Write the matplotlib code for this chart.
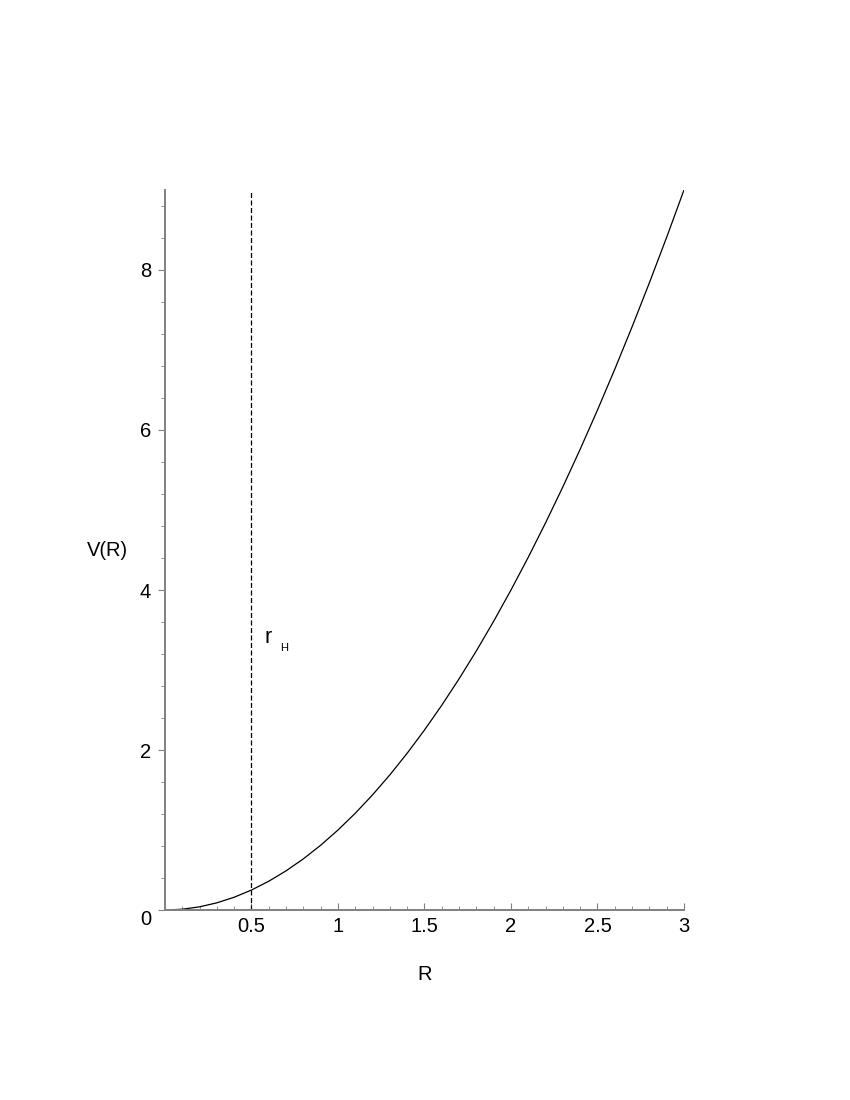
import numpy as np
import matplotlib
matplotlib.use("Agg")
import matplotlib.pyplot as plt
from matplotlib.ticker import MultipleLocator

# values
R_vals = [0.0, 0.1, 0.2, 0.3, 0.4, 0.5, 0.6, 0.7, 0.8, 0.9, 1.0,
          1.1, 1.2, 1.3, 1.4, 1.5, 1.6, 1.7, 1.8, 1.9, 2.0,
          2.1, 2.2, 2.3, 2.4, 2.5, 2.6, 2.7, 2.8, 2.9, 3.0]
V_vals = [0.0, 0.01, 0.04, 0.09, 0.16, 0.25, 0.36, 0.49, 0.64, 0.81, 1.0,
          1.21, 1.44, 1.69, 1.96, 2.25, 2.56, 2.89, 3.24, 3.61, 4.0,
          4.41, 4.84, 5.29, 5.76, 6.25, 6.76, 7.29, 7.84, 8.41, 9.0]
r_horizon = 0.5
x_ticks = [0.5, 1, 1.5, 2, 2.5, 3]
x_tick_labels = ["0.5", "1", "1.5", "2", "2.5", "3"]
y_ticks = [0, 2, 4, 6, 8]

plt.rcParams["font.family"] = ["Liberation Sans", "DejaVu Sans"]

fig = plt.figure(figsize=(8.5, 11), dpi=100)
ax = fig.add_axes([0.1941, 0.1727, 0.6106, 0.6546])

ax.plot(R_vals, V_vals, color="black", lw=0.9)
ax.axvline(r_horizon, color="black", lw=0.9, ls=(0, (4, 2)))

ax.set_xlim(0, 3)
ax.set_ylim(0, 9)

for s in ["top", "right"]:
    ax.spines[s].set_visible(False)
for s in ["left", "bottom"]:
    ax.spines[s].set_color("#808080")
    ax.spines[s].set_linewidth(1.4)

ax.set_xticks(x_ticks)
ax.set_xticklabels(x_tick_labels)
ax.set_yticks(y_ticks)
ax.xaxis.set_minor_locator(MultipleLocator(0.1))
ax.yaxis.set_minor_locator(MultipleLocator(0.4))
ax.tick_params(axis="x", which="major", direction="in", length=5, color="#808080",
               labelsize=14.5, pad=5)
ax.tick_params(axis="x", which="minor", direction="in", length=3, color="#808080")
ax.tick_params(axis="y", which="major", direction="out", length=5, color="#808080",
               labelsize=14.5, pad=5)
ax.tick_params(axis="y", which="minor", direction="out", length=3, color="#808080")

# the "0" on the y axis sits a bit below the x axis line
ax.get_yticklabels()[0].set_va("top")

ax.set_xlabel("R", fontsize=14.5, labelpad=21)
ax.set_ylabel("V(R)", fontsize=14.5, rotation=0, ha="center", va="center")
ax.yaxis.set_label_coords(-0.110, 0.50)

ax.text(0.595, 3.41, "r", fontsize=15.5, ha="center", va="center")
ax.text(0.69, 3.28, "H", fontsize=8, ha="center", va="center")

fig.savefig("out.png", dpi=100)
